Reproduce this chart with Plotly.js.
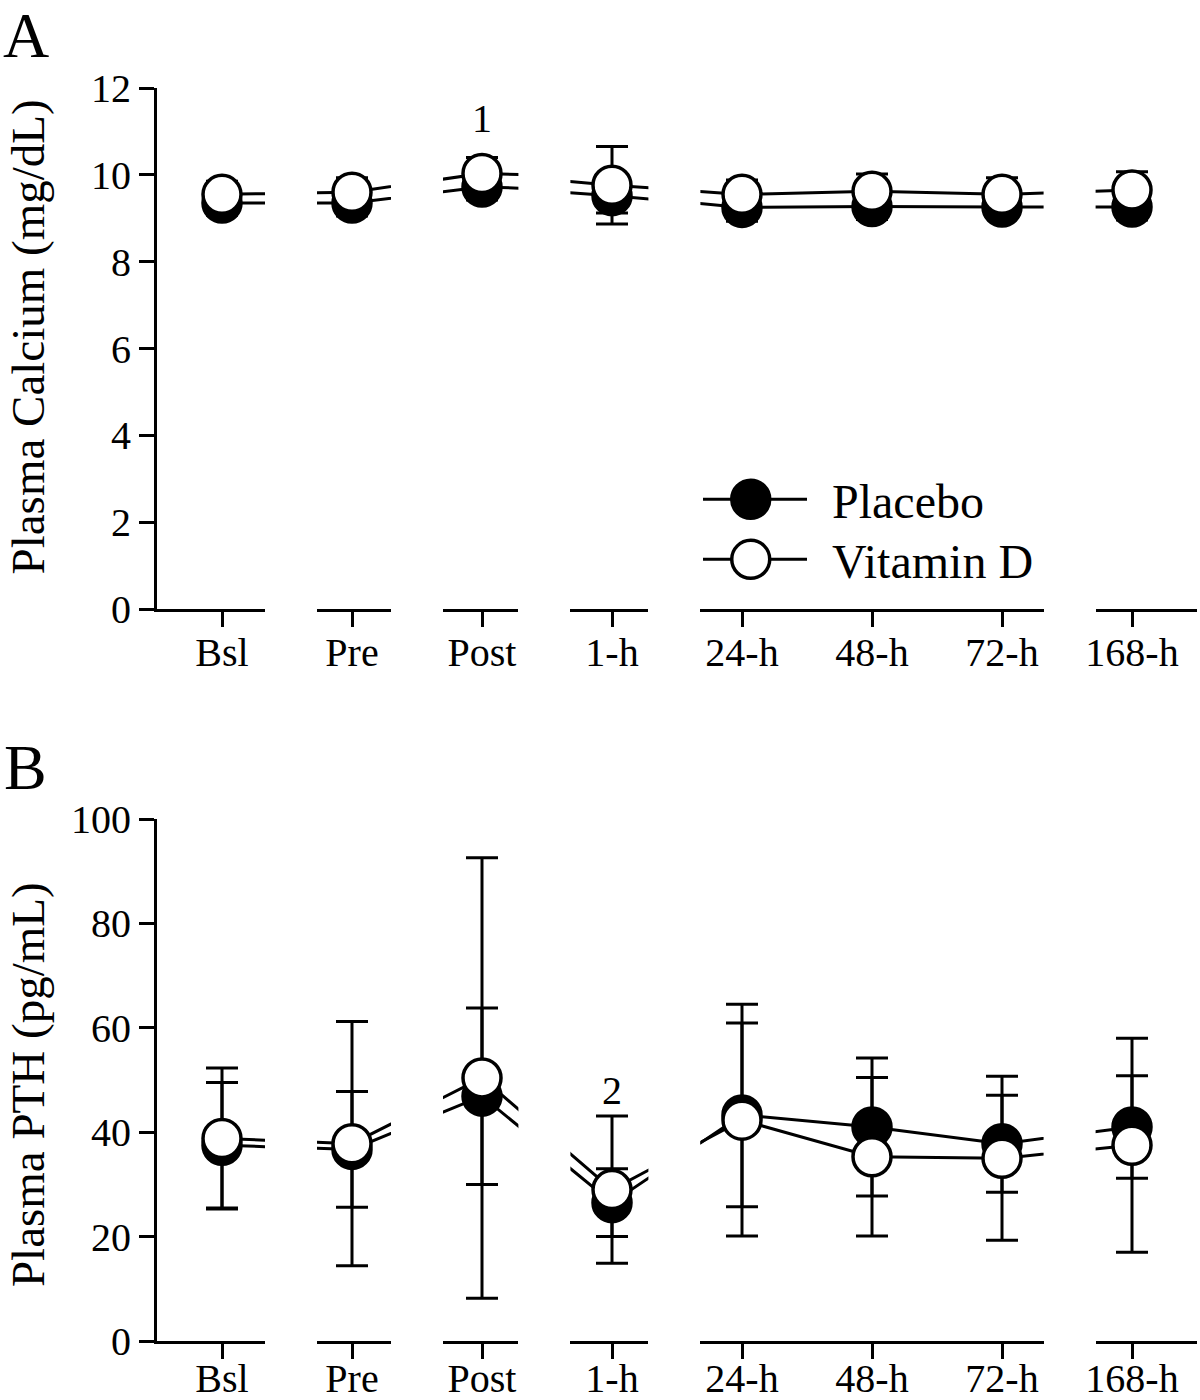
<!DOCTYPE html>
<html lang="en">
<head>
    <meta charset="UTF-8">
    <title>Plasma Calcium and PTH</title>
    <script src="https://cdn.plot.ly/plotly-3.0.1.min.js"></script>
    <style>
        body { margin: 0; background-color: #ffffff; }
        #chart { width: 1200px; height: 1400px; }
    </style>
</head>
<body>
    <div id="chart"></div>

    <script>
        // time points (x categories)
        const timepoints = ['Bsl', 'Pre', 'Post', '1-h', '24-h', '48-h', '72-h', '168-h'];

        // Panel A: plasma calcium (mg/dL), mean and SD
        const placeboCa   = [9.35, 9.35, 9.72, 9.52, 9.25, 9.27, 9.26, 9.26];
        const placeboCaSD = [0.28, 0.30, 0.30, 0.40, 0.32, 0.30, 0.24, 0.30];
        const vitDCa      = [9.55, 9.60, 10.03, 9.76, 9.55, 9.62, 9.55, 9.65];
        const vitDCaSD    = [0.30, 0.33, 0.37, 0.89, 0.33, 0.40, 0.38, 0.42];

        // Panel B: plasma PTH (pg/mL), mean and SD
        const placeboPTH   = [37.5, 36.7, 46.9, 26.5, 43.3, 41.0, 37.8, 41.0];
        const placeboPTHSD = [12.0, 11.1, 16.9, 6.5, 17.6, 13.2, 9.3, 9.8];
        const vitDPTH      = [38.8, 37.8, 50.4, 29.0, 42.3, 35.3, 35.0, 37.5];
        const vitDPTHSD    = [13.5, 23.4, 42.2, 14.1, 22.2, 15.2, 15.7, 20.5];

        // broken x axis: visible pieces in category-index units
        const segments = [[-0.5, 0.33], [0.73, 1.3], [1.7, 2.28], [2.68, 3.28], [3.68, 6.32], [6.72, 7.5]];
        const xStart = -0.5, xEnd = 7.5;
        const xIdx = timepoints.map((_, i) => i);

        const font = 'Liberation Serif, Times New Roman, serif';

        const panels = [
            { yref: 'y',  yname: 'yaxis',  domain: [0.565, 0.93714], range: [0, 12],  dtick: 2, standoff: -9,
              placebo: placeboCa, placeboSD: placeboCaSD, vitD: vitDCa, vitDSD: vitDCaSD },
            { yref: 'y2', yname: 'yaxis2', domain: [0.04214, 0.415], range: [0, 100], dtick: 20, standoff: -15,
              placebo: placeboPTH, placeboSD: placeboPTHSD, vitD: vitDPTH, vitDSD: vitDPTHSD }
        ];

        const data = [];
        const layout = {
            width: 1200,
            height: 1400,
            margin: { l: 157, r: 3, t: 0, b: 0 },
            paper_bgcolor: '#ffffff',
            plot_bgcolor: 'rgba(0,0,0,0)',
            showlegend: false,
            font: { family: font, color: '#000000', size: 40 },
            annotations: [],
            shapes: []
        };

        panels.forEach((p, pi) => {
            const firstX = 'x' + (pi * 6 + 1 === 1 ? '' : pi * 6 + 1);
            layout[p.yname] = {
                domain: p.domain,
                range: p.range,
                dtick: p.dtick,
                anchor: firstX,
                showline: true, linewidth: 3, linecolor: '#000',
                ticks: 'outside', ticklen: 15, tickwidth: 3, tickcolor: '#000',
                showgrid: false, zeroline: false,
                tickfont: { size: 40 },
                fixedrange: true
            };

            segments.forEach((seg, si) => {
                const n = pi * 6 + si + 1;
                const xref = 'x' + (n === 1 ? '' : n);
                const inSeg = xIdx.filter(i => i > seg[0] && i < seg[1]);
                layout['xaxis' + (n === 1 ? '' : n)] = {
                    domain: [(seg[0] - xStart) / (xEnd - xStart), (seg[1] - xStart) / (xEnd - xStart)],
                    range: seg,
                    anchor: p.yref,
                    tickvals: inSeg,
                    ticktext: inSeg.map(i => timepoints[i]),
                    showline: true, linewidth: 3, linecolor: '#000',
                    ticks: 'outside', ticklen: 15, tickwidth: 3, tickcolor: '#000',
                    ticklabelstandoff: p.standoff,
                    showgrid: false, zeroline: false,
                    tickfont: { size: 40 },
                    fixedrange: true
                };

                // full series on every piece, the piece clips what it shows
                [[p.placebo, p.placeboSD, '#000000', 'Placebo'],
                 [p.vitD, p.vitDSD, '#ffffff', 'Vitamin D']].forEach(([vals, sd, fill, name]) => {
                    data.push({
                        type: 'scatter',
                        mode: 'lines+markers',
                        name: name,
                        x: xIdx,
                        y: vals,
                        xaxis: xref,
                        yaxis: p.yref,
                        line: { color: '#000', width: 3 },
                        marker: { size: 38, color: fill, line: { color: '#000', width: 3.5 } },
                        error_y: { type: 'data', array: sd, visible: true, color: '#000', thickness: 3, width: 16 },
                        cliponaxis: true,
                        showlegend: false,
                        hoverinfo: 'skip'
                    });
                });
            });
        });

        // significance marks
        layout.annotations.push(
            { text: '1', xref: 'x3', yref: 'y', x: 2, y: 11.3, showarrow: false, font: { size: 40 } },
            { text: '2', xref: 'x10', yref: 'y2', x: 3, y: 48, showarrow: false, font: { size: 40 } }
        );

        // panel letters and y titles
        const centered = { xref: 'paper', yref: 'paper', xanchor: 'center', yanchor: 'middle', showarrow: false };
        layout.annotations.push(
            Object.assign({ text: 'A', x: -0.126, y: 0.975, font: { size: 64 } }, centered),
            Object.assign({ text: 'B', x: -0.126, y: 0.452, font: { size: 64 } }, centered),
            Object.assign({ text: 'Plasma Calcium (mg/dL)', x: -0.124, y: 0.759, textangle: -90,
                            font: { size: 47 } }, centered),
            Object.assign({ text: 'Plasma PTH (pg/mL)', x: -0.124, y: 0.225, textangle: -90,
                            font: { size: 47 } }, centered)
        );

        // legend drawn by hand so the symbol matches the plotted marker size
        const legendItems = [['Placebo', '#000000', 0.64336], ['Vitamin D', '#ffffff', 0.6005]];
        legendItems.forEach(([name, fill, ly]) => {
            layout.shapes.push({
                type: 'line', xref: 'paper', yref: 'paper', x0: 0.525, x1: 0.625, y0: ly, y1: ly,
                line: { color: '#000', width: 3 }
            });
            layout.shapes.push({
                type: 'circle', xref: 'paper', yref: 'paper',
                xsizemode: 'pixel', ysizemode: 'pixel', xanchor: 0.5709, yanchor: ly,
                x0: -19, x1: 19, y0: -19, y1: 19,
                fillcolor: fill, line: { color: '#000', width: 3.5 }
            });
            layout.annotations.push({
                text: name, xref: 'paper', yref: 'paper', x: 0.647, y: ly, yshift: -2,
                xanchor: 'left', yanchor: 'middle', showarrow: false, font: { size: 48 }
            });
        });

        Plotly.newPlot('chart', data, layout, { displayModeBar: false, staticPlot: true });
    </script>
</body>
</html>
